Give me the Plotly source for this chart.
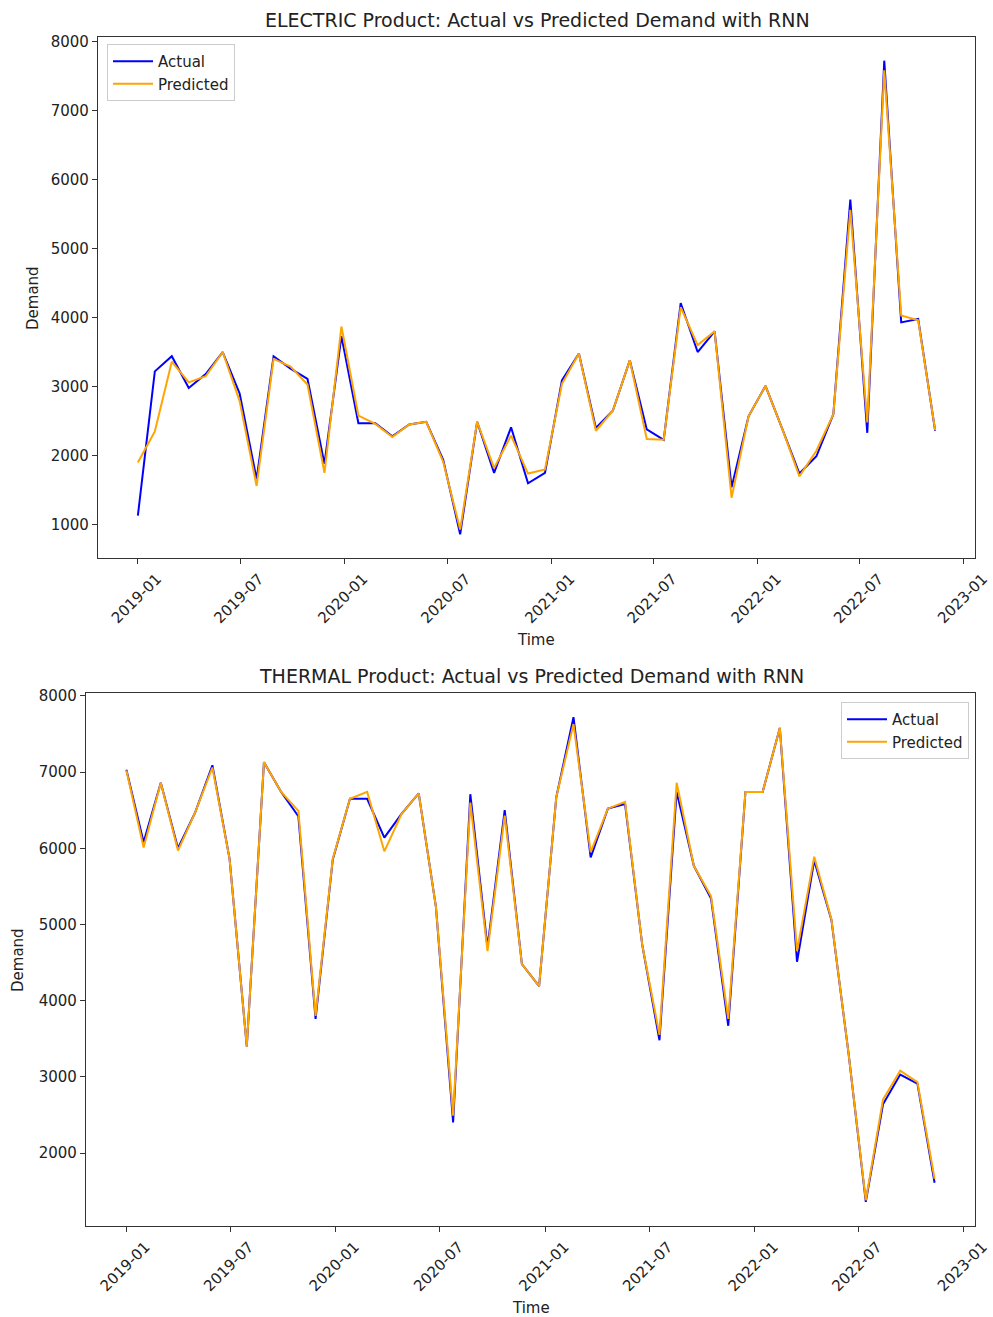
import pandas as pd
import plotly.graph_objects as go

# Sample dates (30-day steps starting Jan 2019)
dates = pd.date_range("2019-01-01", periods=48, freq="30D")

electric_actual = [
    1130, 3220, 3440, 2980, 3180, 3500, 2900, 1660, 3440, 3260, 3110, 1880,
    3730, 2470, 2470, 2280, 2450, 2490, 1940, 860, 2490, 1750, 2410, 1600,
    1750, 3090, 3480, 2400, 2650, 3380, 2380, 2230, 4210, 3500, 3800, 1540,
    2570, 3010, 2380, 1740, 1990, 2600, 5710, 2330, 7720, 3930, 3980, 2360,
]
electric_predicted = [
    1900, 2350, 3360, 3060, 3150, 3500, 2790, 1560, 3400, 3290, 3030, 1750,
    3870, 2580, 2460, 2270, 2450, 2490, 1910, 930, 2490, 1820, 2290, 1740,
    1800, 3040, 3480, 2360, 2650, 3380, 2240, 2230, 4150, 3600, 3800, 1390,
    2570, 3010, 2380, 1700, 2070, 2600, 5560, 2480, 7580, 4030, 3960, 2370,
]
thermal_actual = [
    7030, 6080, 6860, 6000, 6470, 7090, 5860, 3400, 7130, 6740, 6420, 3760,
    5850, 6650, 6650, 6140, 6450, 6720, 5230, 2400, 6710, 4700, 6500, 4480,
    4190, 6670, 7720, 5880, 6520, 6580, 4730, 3480, 6740, 5770, 5340, 3670,
    6740, 6740, 7580, 4510, 5840, 5060, 3300, 1360, 2640, 3030, 2910, 1610,
]
thermal_predicted = [
    7020, 6010, 6860, 5970, 6470, 7060, 5860, 3400, 7130, 6740, 6490, 3800,
    5860, 6650, 6740, 5960, 6450, 6720, 5230, 2490, 6600, 4650, 6430, 4480,
    4190, 6670, 7630, 5950, 6520, 6610, 4730, 3550, 6860, 5770, 5370, 3760,
    6740, 6740, 7580, 4650, 5890, 5070, 3300, 1380, 2700, 3080, 2930, 1660,
]

tick_dates = pd.date_range("2019-01-01", "2023-01-01", freq="6MS")
tick_text = [d.strftime("%Y-%m") for d in tick_dates]

W, H = 993, 1317
FONT = "DejaVu Sans"
TXT = "#222222"


def px_x(x):
    return x / W


def px_y(y):
    return 1 - y / H


def padded(lo, hi, frac=0.05):
    span = hi - lo
    return [lo - frac * span, hi + frac * span]


x_pad = (dates[-1] - dates[0]) * 0.05
x_range = [dates[0] - x_pad, dates[-1] + x_pad]

fig = go.Figure()

# Top panel: ELECTRIC
fig.add_trace(go.Scatter(x=dates, y=electric_actual, mode="lines", name="Actual",
                         line=dict(color="blue", width=2), xaxis="x", yaxis="y",
                         legend="legend"))
fig.add_trace(go.Scatter(x=dates, y=electric_predicted, mode="lines", name="Predicted",
                         line=dict(color="orange", width=2), xaxis="x", yaxis="y",
                         legend="legend"))
# Bottom panel: THERMAL
fig.add_trace(go.Scatter(x=dates, y=thermal_actual, mode="lines", name="Actual",
                         line=dict(color="blue", width=2), xaxis="x2", yaxis="y2",
                         legend="legend2"))
fig.add_trace(go.Scatter(x=dates, y=thermal_predicted, mode="lines", name="Predicted",
                         line=dict(color="orange", width=2), xaxis="x2", yaxis="y2",
                         legend="legend2"))

e_all = electric_actual + electric_predicted
t_all = thermal_actual + thermal_predicted

axis_common = dict(
    showline=True, linecolor="#333333", linewidth=1.2, mirror=True,
    ticks="outside", ticklen=5, tickcolor="#333333", tickwidth=1.2,
    showgrid=False, zeroline=False, automargin=False,
    tickfont=dict(family=FONT, size=15, color=TXT),
)
x_common = dict(type="date", range=x_range, tickvals=tick_dates, ticktext=tick_text,
                tickangle=-45, ticklabelshift=19, ticklabeloverflow="allow",
                **axis_common)
legend_common = dict(bgcolor="rgba(255,255,255,0.8)", bordercolor="#cccccc",
                     borderwidth=1, itemwidth=40,
                     font=dict(family=FONT, size=15, color=TXT))


def label(text, x, y, size=15, angle=0):
    return dict(text=text, x=px_x(x), y=px_y(y), xref="paper", yref="paper",
                xanchor="center", yanchor="middle", textangle=angle,
                showarrow=False, font=dict(family=FONT, size=size, color=TXT))


fig.update_layout(
    width=W, height=H,
    margin=dict(l=0, r=0, t=0, b=0),
    paper_bgcolor="white", plot_bgcolor="white",
    font=dict(family=FONT, color=TXT),
    xaxis=dict(domain=[px_x(98), px_x(975)], anchor="y", **x_common),
    yaxis=dict(domain=[px_y(558), px_y(37)], anchor="x",
               range=padded(min(e_all), max(e_all)), dtick=1000, **axis_common),
    xaxis2=dict(domain=[px_x(86), px_x(975)], anchor="y2", **x_common),
    yaxis2=dict(domain=[px_y(1226), px_y(693)], anchor="x2",
                range=padded(min(t_all), max(t_all)), dtick=1000, **axis_common),
    legend=dict(x=px_x(107), y=px_y(44), xanchor="left", yanchor="top", **legend_common),
    legend2=dict(x=px_x(969), y=px_y(702), xanchor="right", yanchor="top", **legend_common),
    annotations=[
        label("ELECTRIC Product: Actual vs Predicted Demand with RNN", 537, 20, size=19),
        label("THERMAL Product: Actual vs Predicted Demand with RNN", 531, 676, size=19),
        label("Time", 536, 640),
        label("Time", 531, 1308),
        label("Demand", 33, 298, angle=-90),
        label("Demand", 18, 960, angle=-90),
    ],
)

fig.write_html("out.html")
